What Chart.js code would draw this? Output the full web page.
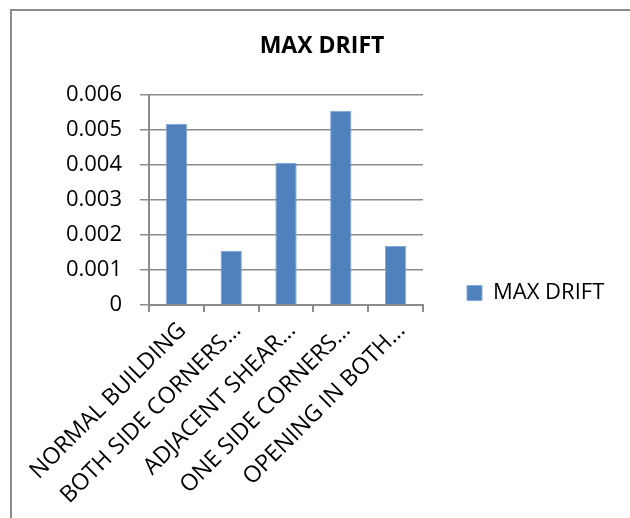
<!DOCTYPE html>
<html>
<head>
<meta charset="utf-8">
<script src="https://cdn.jsdelivr.net/npm/chart.js@4.4.1/dist/chart.umd.min.js"></script>
<style>
  html, body { margin: 0; padding: 0; background: #fff; overflow: hidden; }
  #wrap { position: relative; width: 630px; height: 518px; }
  #frame { position: absolute; left: 10px; top: 9px; width: 700px; height: 700px; border: 2px solid #8c8c8c; box-sizing: border-box; pointer-events: none; }
  canvas { position: absolute; left: 0; top: 0; }
</style>
</head>
<body>
<div id="wrap">
  <canvas id="c" width="630" height="518"></canvas>
  <div id="frame"></div>
</div>
<script>
const categories = [
  "NORMAL BUILDING",
  "BOTH SIDE CORNERS\u2026",
  "ADJACENT SHEAR\u2026",
  "ONE SIDE CORNERS\u2026",
  "OPENING IN BOTH\u2026"
];
const seriesName = "MAX DRIFT";
const maxDrift = [0.00516, 0.00154, 0.00405, 0.00554, 0.00168];
const yTicks = [0, 0.001, 0.002, 0.003, 0.004, 0.005, 0.006];

const FONT = "'Open Sans', 'Noto Sans', sans-serif";
const GRID = '#8c8c8c';

const boxAdjust = {
  id: 'boxAdjust',
  afterLayout(chart) {
    const L = chart.legend;
    if (L) {
      const h = L.bottom - L.top;
      L.top = 293 - h / 2;
      L.bottom = 293 + h / 2;
      L.height = h;
      L.right = chart.width;
      L.width = L.right - L.left;
    }
    const T = chart.titleBlock;
    if (T) {
      T.left = 11;
      T.right = 633;
      T.width = T.right - T.left;
    }
  }
};

new Chart(document.getElementById('c'), {
  type: 'bar',
  data: {
    labels: categories,
    datasets: [{
      label: seriesName,
      data: maxDrift,
      backgroundColor: '#4F81BD',
      borderColor: '#86a8d6',
      borderWidth: 1,
      barPercentage: 0.39,
      categoryPercentage: 1.0
    }]
  },
  options: {
    responsive: false,
    animation: false,
    layout: { padding: { left: 0, right: 66, top: 0, bottom: 0 } },
    plugins: {
      title: {
        display: true,
        text: seriesName,
        color: '#000',
        font: { family: FONT, size: 23, weight: 'bold' },
        padding: { top: 33, bottom: 34 }
      },
      legend: {
        position: 'right',
        labels: {
          color: '#000',
          font: { family: FONT, size: 22 },
          boxWidth: 15,
          boxHeight: 15,
          padding: 44
        }
      },
      tooltip: { enabled: false }
    },
    scales: {
      x: {
        offset: true,
        grid: {
          display: true,
          drawOnChartArea: false,
          drawTicks: true,
          tickLength: 7,
          color: GRID,
          lineWidth: 2,
          offset: true
        },
        border: { display: true, color: GRID, width: 2 },
        ticks: {
          color: '#000',
          font: { family: FONT, size: 23 },
          maxRotation: 45,
          minRotation: 45,
          autoSkip: false,
          padding: 5,
          labelOffset: 6
        },
        afterFit(s) { s.height = 213; }
      },
      y: {
        min: 0,
        max: 0.006,
        afterBuildTicks(s) { s.ticks = yTicks.map(v => ({ value: v })); },
        grid: {
          color: GRID,
          lineWidth: 1.5,
          tickLength: 9,
          drawTicks: true
        },
        border: { display: true, color: GRID, width: 2 },
        ticks: {
          color: '#000',
          font: { family: FONT, size: 22 },
          padding: 18,
          callback: (v) => v === 0 ? '0' : Number(v).toFixed(3)
        },
        afterFit(s) { s.width = 149; }
      }
    }
  },
  plugins: [boxAdjust]
});
</script>
</body>
</html>
